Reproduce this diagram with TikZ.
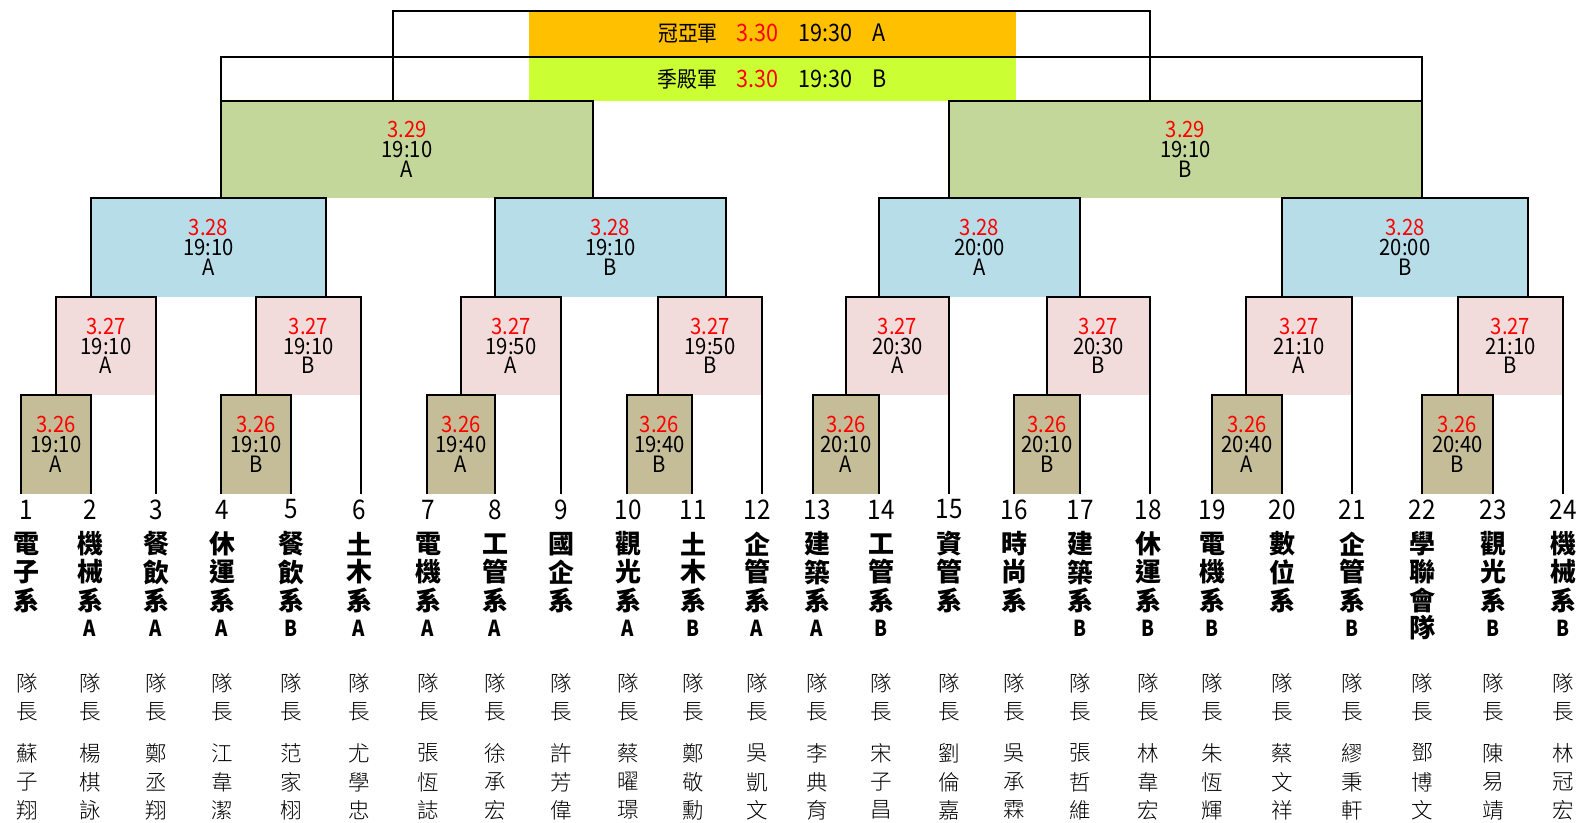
\documentclass[tikz,border=0pt]{standalone}
\usepackage{fontspec}
\setmainfont{Noto Sans CJK TC}
\newfontfamily\numf[FakeStretch=0.9]{Noto Sans CJK TC}
\newfontfamily\blackf{Noto Sans CJK TC Black}
\newfontfamily\blackn[FakeStretch=0.85]{Noto Sans CJK TC Black}
\newfontfamily\lightf{Noto Sans CJK TC Light}
\definecolor{cOr}{HTML}{FFC000}
\definecolor{cLime}{HTML}{CCFF33}
\definecolor{cGreen}{HTML}{C4D79B}
\definecolor{cBlue}{HTML}{B7DDE8}
\definecolor{cPink}{HTML}{F2DCDB}
\definecolor{cTan}{HTML}{C4BD97}
\newcommand\boxfont{\numf\fontsize{22.5}{19.8}\selectfont}
\newcommand\topfont{\numf\fontsize{24}{24}\selectfont}
\newcommand\topcjk{\fontsize{22}{22}\selectfont}
\newcommand\numlabfont{\numf\fontsize{27}{27}\selectfont}
\newcommand\namefont{\blackf\fontsize{26}{26}\selectfont}
\newcommand\capfont{\lightf\fontsize{21.5}{21.5}\selectfont}
\newcommand\ltA{{\blackn\fontsize{22}{22}\selectfont A}}
\newcommand\ltB{{\blackn\fontsize{22}{22}\selectfont B}}
\tikzset{
  fillbox/.style={rectangle, inner sep=0pt, outer sep=0pt, draw=none, align=center, font=\boxfont},
  bline/.style={line width=1.3pt, draw=black, line join=miter},
  numlab/.style={inner sep=0pt, font=\numlabfont},
  namech/.style={inner sep=0pt, font=\namefont},
  capch/.style={inner sep=0pt, font=\capfont},
}
\newcommand\mymatch[9]{%
  \node[fillbox, fill=#6, minimum width={(#3)-(#2)}, minimum height={(#5)-(#4)}] (#1)
    at ({((#2)+(#3))/2},{((#4)+(#5))/2}) {\textcolor{red}{#7}\\#8\\#9};}
\newcommand\bracket[1]{\draw[bline] (#1.south west) -- (#1.north west) -- (#1.north east) -- (#1.south east);}
\newcommand\team[7]{%
  \node[numlab] (n#1) at (#2,509.5) {#3};
  \node[namech] (a#1) at (#2,544) {#4};
  \node[namech] (b#1) at (#2,572) {#5};
  \node[namech] (c#1) at (#2,600) {#6};
  \node[namech] (d#1) at (#2,628) {#7};}
\newcommand\capt[5]{%
  \node[capch] (q#1) at (#2,683) {隊};
  \node[capch] (r#1) at (#2,712) {長};
  \node[capch] (s#1) at (#2,753) {#3};
  \node[capch] (u#1) at (#2,782) {#4};
  \node[capch] (v#1) at (#2,810) {#5};}
\begin{document}
\begin{tikzpicture}[x=1pt,y=-1pt]
\useasboundingbox (0,0) rectangle (1584,822);
\fill[white] (0,0) rectangle (1584,822);
% top rows
\node[fillbox, fill=cOr, minimum width=487, minimum height=46, font=\topfont] (fin) at (772,34)
  {{\topcjk 冠亞軍}\hspace{19pt}\textcolor{red}{3.30}\hspace{20pt}19:30\hspace{20pt}A};
\node[fillbox, fill=cLime, minimum width=487, minimum height=44, font=\topfont] (thr) at (772,79)
  {{\topcjk 季殿軍}\hspace{19pt}\textcolor{red}{3.30}\hspace{20pt}19:30\hspace{20pt}B};
% matches
\mymatch{g1}{221}{593}{101}{198}{cGreen}{3.29}{19:10}{A}
\mymatch{g2}{949}{1422}{101}{198}{cGreen}{3.29}{19:10}{B}
\mymatch{b1}{91}{326}{198}{297}{cBlue}{3.28}{19:10}{A}
\mymatch{b2}{495}{726}{198}{297}{cBlue}{3.28}{19:10}{B}
\mymatch{b3}{879}{1080}{198}{297}{cBlue}{3.28}{20:00}{A}
\mymatch{b4}{1282}{1528}{198}{297}{cBlue}{3.28}{20:00}{B}
\mymatch{p1}{56}{156}{297}{395}{cPink}{3.27}{19:10}{A}
\mymatch{p2}{256}{361}{297}{395}{cPink}{3.27}{19:10}{B}
\mymatch{p3}{461}{561}{297}{395}{cPink}{3.27}{19:50}{A}
\mymatch{p4}{658}{762}{297}{395}{cPink}{3.27}{19:50}{B}
\mymatch{p5}{846}{949}{297}{395}{cPink}{3.27}{20:30}{A}
\mymatch{p6}{1047}{1150}{297}{395}{cPink}{3.27}{20:30}{B}
\mymatch{p7}{1246}{1352}{297}{395}{cPink}{3.27}{21:10}{A}
\mymatch{p8}{1458}{1563}{297}{395}{cPink}{3.27}{21:10}{B}
\mymatch{t1}{21}{91}{395}{494}{cTan}{3.26}{19:10}{A}
\mymatch{t2}{221}{291}{395}{494}{cTan}{3.26}{19:10}{B}
\mymatch{t3}{427}{495}{395}{494}{cTan}{3.26}{19:40}{A}
\mymatch{t4}{627}{692}{395}{494}{cTan}{3.26}{19:40}{B}
\mymatch{t5}{813}{879}{395}{494}{cTan}{3.26}{20:10}{A}
\mymatch{t6}{1014}{1080}{395}{494}{cTan}{3.26}{20:10}{B}
\mymatch{t7}{1212}{1282}{395}{494}{cTan}{3.26}{20:40}{A}
\mymatch{t8}{1422}{1493}{395}{494}{cTan}{3.26}{20:40}{B}
% coordinates
\coordinate (fLt) at (393,11);
\coordinate (fRt) at (1150,11);
\coordinate (fL) at (393,101);
\coordinate (fR) at (1150,101);
\coordinate (tLt) at (221,57);
\coordinate (tRt) at (1422,57);
\coordinate (e3) at (156,494);
\coordinate (e6) at (361,494);
\coordinate (e9) at (561,494);
\coordinate (e12) at (762,494);
\coordinate (e15) at (949,494);
\coordinate (e18) at (1150,494);
\coordinate (e21) at (1352,494);
\coordinate (e24) at (1563,494);
% lines
\draw[bline] (fL) -- (fLt) -- (fRt) -- (fR);
\draw[bline] (g1.north west) -- (tLt) -- (tRt) -- (g2.north east);
\foreach \m in {g1,g2,b1,b2,b3,b4,p1,p2,p3,p4,p5,p6,p7,p8,t1,t2,t3,t4,t5,t6,t7,t8} {\bracket{\m}}
\draw[bline] (p1.south east) -- (e3);
\draw[bline] (p2.south east) -- (e6);
\draw[bline] (p3.south east) -- (e9);
\draw[bline] (p4.south east) -- (e12);
\draw[bline] (p5.south east) -- (e15);
\draw[bline] (p6.south east) -- (e18);
\draw[bline] (p7.south east) -- (e21);
\draw[bline] (p8.south east) -- (e24);
% teams
\team{1}{26}{1}{電}{子}{系}{}
\team{2}{90}{2}{機}{械}{系}{\ltA}
\team{3}{156}{3}{餐}{飲}{系}{\ltA}
\team{4}{222}{4}{休}{運}{系}{\ltA}
\team{5}{291}{5}{餐}{飲}{系}{\ltB}
\team{6}{359}{6}{土}{木}{系}{\ltA}
\team{7}{428}{7}{電}{機}{系}{\ltA}
\team{8}{495}{8}{工}{管}{系}{\ltA}
\team{9}{561}{9}{國}{企}{系}{}
\team{10}{628}{10}{觀}{光}{系}{\ltA}
\team{11}{693}{11}{土}{木}{系}{\ltB}
\team{12}{757}{12}{企}{管}{系}{\ltA}
\team{13}{817}{13}{建}{築}{系}{\ltA}
\team{14}{881}{14}{工}{管}{系}{\ltB}
\team{15}{949}{15}{資}{管}{系}{}
\team{16}{1014}{16}{時}{尚}{系}{}
\team{17}{1080}{17}{建}{築}{系}{\ltB}
\team{18}{1148}{18}{休}{運}{系}{\ltB}
\team{19}{1212}{19}{電}{機}{系}{\ltB}
\team{20}{1282}{20}{數}{位}{系}{}
\team{21}{1352}{21}{企}{管}{系}{\ltB}
\team{22}{1422}{22}{學}{聯}{會}{隊}
\team{23}{1493}{23}{觀}{光}{系}{\ltB}
\team{24}{1563}{24}{機}{械}{系}{\ltB}
% captains
\capt{1}{27}{蘇}{子}{翔}
\capt{2}{90}{楊}{棋}{詠}
\capt{3}{156}{鄭}{丞}{翔}
\capt{4}{222}{江}{韋}{潔}
\capt{5}{291}{范}{家}{栩}
\capt{6}{359}{尤}{學}{忠}
\capt{7}{428}{張}{恆}{誌}
\capt{8}{495}{徐}{承}{宏}
\capt{9}{561}{許}{芳}{偉}
\capt{10}{628}{蔡}{曜}{璟}
\capt{11}{693}{鄭}{敬}{勳}
\capt{12}{757}{吳}{凱}{文}
\capt{13}{817}{李}{典}{育}
\capt{14}{881}{宋}{子}{昌}
\capt{15}{949}{劉}{倫}{嘉}
\capt{16}{1014}{吳}{承}{霖}
\capt{17}{1080}{張}{哲}{維}
\capt{18}{1148}{林}{韋}{宏}
\capt{19}{1212}{朱}{恆}{輝}
\capt{20}{1282}{蔡}{文}{祥}
\capt{21}{1352}{繆}{秉}{軒}
\capt{22}{1422}{鄧}{博}{文}
\capt{23}{1493}{陳}{易}{靖}
\capt{24}{1563}{林}{冠}{宏}
\end{tikzpicture}
\end{document}
